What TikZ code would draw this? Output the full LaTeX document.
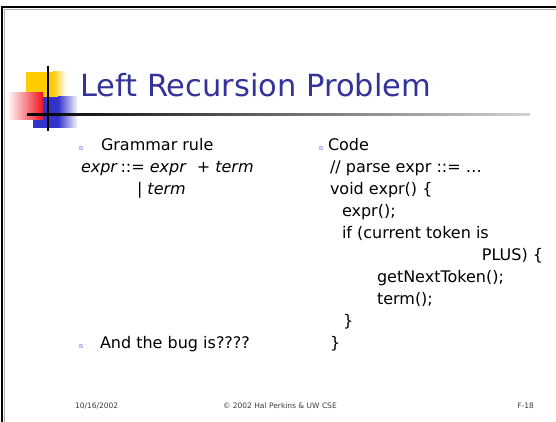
\documentclass[tikz,border=0pt]{standalone}
\usepackage{fontspec}
\setmainfont{DejaVu Sans}
\newfontfamily\bulletfont{Liberation Serif}
\definecolor{titleblue}{RGB}{51,51,153}
\definecolor{bulletblue}{RGB}{102,102,204}
\definecolor{logoyellow}{RGB}{255,204,0}
\definecolor{logored}{RGB}{240,20,30}
\definecolor{logoblue}{RGB}{51,51,204}
\definecolor{footgray}{RGB}{60,60,60}
\begin{document}
\begin{tikzpicture}[x=1pt,y=-1pt,
  every node/.style={inner sep=0pt,outer sep=0pt,anchor=base west},
  body/.style={font=\fontsize{16}{19}\selectfont},
  bul/.style={text=bulletblue,font=\bulletfont\fontsize{8}{9}\selectfont},
  foot/.style={text=footgray,font=\fontsize{7.5}{9}\selectfont}]
\useasboundingbox (0,0) rectangle (556,422);
\fill[white] (0,0) rectangle (556,422);
% window frame
\draw[line width=2.2pt] (2,422) -- (2,7) -- (556,7);
\draw[gray!60,line width=0.6pt] (4.2,422) -- (4.2,9.4) -- (556,9.4);
% logo squares
\fill[logoyellow] (26,72) rectangle (53,97);
\shade[left color=logoyellow,right color=white] (53,72) rectangle (66,97);
\fill[logoblue] (33,97) rectangle (58,128);
\shade[left color=logoblue,right color=white] (58,97) rectangle (78,128);
\shade[left color=white,right color=logored] (7,93) rectangle (43,120);
% title rule and cross bar
\shade[left color=black,right color=gray!35] (27,113.6) rectangle (530,116);
\draw[line width=1.3pt] (48,66) -- (48,131);
% title
\node[text=titleblue,font=\fontsize{30.5}{36}\selectfont] (title) at (80,97) {Left Recursion Problem};
% left column
\node[bul] (b1) at (79,150) {n};
\node[body] (gram) at (101,150) {Grammar rule};
\node[body] (rule1) at (81,172) {\textit{expr}\,::= \textit{expr}\ \ + \textit{term}};
\node[body] (rule2) at (137,194) {| \textit{term}};
\node[bul] (b2) at (79,348) {n};
\node[body] (bug) at (100,348) {And the bug is????};
% right column
\node[bul] (b3) at (319,150) {n};
\node[body] (code) at (328,150) {Code};
\node[body] (c1) at (330,172) {// parse expr ::= …};
\node[body] (c2) at (330,194) {void expr() \{};
\node[body] (c3) at (342,216) {expr();};
\node[body] (c4) at (342,238) {if (current token is};
\node[body,anchor=base east] (c5) at (543,260) {PLUS) \{};
\node[body] (c6) at (377,282) {getNextToken();};
\node[body] (c7) at (377,304) {term();};
\node[body] (c8) at (343,326) {\}};
\node[body] (c9) at (330,348) {\}};
% footer
\node[foot] (date) at (75,408) {10/16/2002};
\node[foot] (copy) at (223,408) {© 2002 Hal Perkins \& UW CSE};
\node[foot,anchor=base east] (page) at (534,408) {F-18};
\end{tikzpicture}
\end{document}
